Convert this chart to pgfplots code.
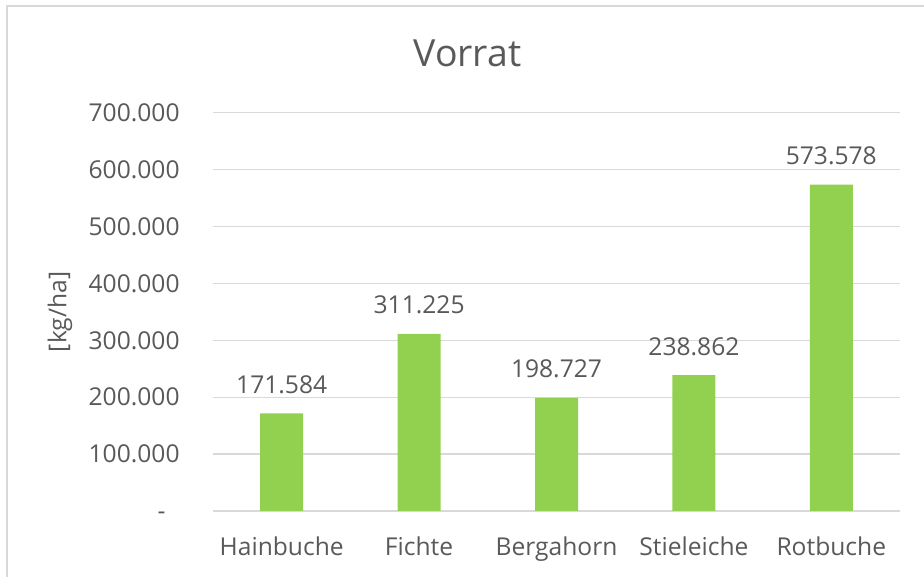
\documentclass[border=0pt]{standalone}
\usepackage{pgfplots}
\pgfplotsset{compat=1.18}
\usepackage{fontspec}
\setmainfont{Open Sans}
\definecolor{txt}{HTML}{595959}
\definecolor{grid}{HTML}{D9D9D9}
\definecolor{bar}{HTML}{92D050}
\begin{document}
\begin{tikzpicture}
\useasboundingbox (0,0) rectangle (462pt,288.5pt);
\draw[grid, line width=1pt] (3.25pt,0pt) -- (3.25pt,285.5pt) -- (462pt,285.5pt);
\node[anchor=base, text=txt, font=\fontsize{18.7pt}{22pt}\selectfont, inner sep=0pt] at (233.75pt,255.2pt) {Vorrat};
\begin{axis}[
  at={(106.5pt,33pt)}, anchor=south west,
  scale only axis, width=343.5pt, height=199.15pt,
  xmin=-0.5, xmax=4.5, ymin=0, ymax=700000,
  axis line style={draw=none},
  ybar, bar width=21.5pt,
  xtick={0,1,2,3,4},
  xticklabels={Hainbuche,Fichte,Bergahorn,Stieleiche,Rotbuche},
  ytick={0,100000,200000,300000,400000,500000,600000,700000},
  yticklabels={-\phantom{0},100.000,200.000,300.000,400.000,500.000,600.000,700.000},
  xmajorgrids=false, ymajorgrids=true,
  y grid style={grid, line width=0.65pt},
  xtick style={draw=none}, ytick style={draw=none},
  major tick length=0pt,
  tick label style={font=\fontsize{12.3pt}{15pt}\selectfont, text=txt, inner sep=0pt},
  xticklabel style={anchor=base, yshift=-22.5pt},
  yticklabel style={anchor=east, xshift=-16.5pt},
  scaled y ticks=false,
  ylabel={[kg/ha]},
  every axis y label/.style={at={(rel axis cs:0,0.5)}, xshift=-76.5pt, rotate=90, anchor=center, font=\fontsize{12.3pt}{15pt}\selectfont, text=txt, inner sep=0pt},
  clip=false,
  nodes near coords,
  point meta=explicit symbolic,
  every node near coord/.append style={anchor=base, yshift=10pt, inner sep=0pt, font=\fontsize{12.3pt}{15pt}\selectfont, text=txt},
]
\addplot[fill=bar, draw=none] coordinates {
  (0,171584) [171.584]
  (1,311225) [311.225]
  (2,198727) [198.727]
  (3,238862) [238.862]
  (4,573578) [573.578]
};
\end{axis}
\end{tikzpicture}
\end{document}
